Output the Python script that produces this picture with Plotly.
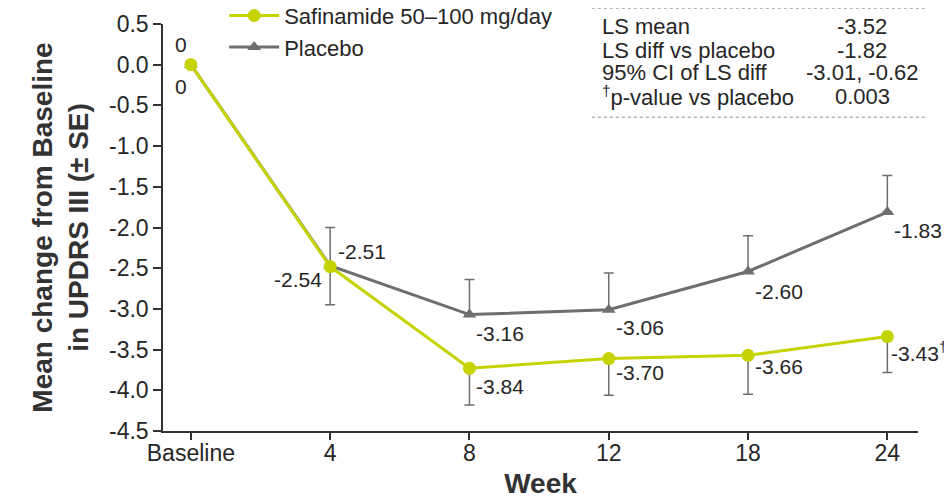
import plotly.graph_objects as go

# ---- data ----
weeks = ["Baseline", "4", "8", "12", "18", "24"]
safinamide = [0.0, -2.48, -3.73, -3.61, -3.57, -3.34]
safinamide_se = [0.0, 0.47, 0.45, 0.45, 0.48, 0.44]
safinamide_labels = ["0", "-2.54", "-3.84", "-3.70", "-3.66", "-3.43<sup>†</sup>"]
placebo = [0.0, -2.47, -3.07, -3.01, -2.54, -1.81]
placebo_se = [0.0, 0.47, 0.43, 0.45, 0.44, 0.45]
placebo_labels = ["0", "-2.51", "-3.16", "-3.06", "-2.60", "-1.83"]
table_rows = ["LS mean", "LS diff vs placebo", "95% CI of LS diff", "<sup>†</sup>p-value vs placebo"]
table_vals = ["-3.52", "-1.82", "-3.01, -0.62", "0.003"]
yticks = [0.5, 0.0, -0.5, -1.0, -1.5, -2.0, -2.5, -3.0, -3.5, -4.0, -4.5]

GREEN = "#c5d300"
GREY = "#6d6e70"
TXT = "#262626"
FONT = "Liberation Sans, Arial, sans-serif"

fig = go.Figure()
fig.add_trace(go.Scatter(
    x=weeks, y=placebo, mode="lines+markers", name="Placebo",
    line=dict(color=GREY, width=3),
    marker=dict(symbol="triangle-up", size=12, color=GREY),
    error_y=dict(type="data", symmetric=False, array=placebo_se,
                 arrayminus=[0] * len(placebo_se), color=GREY, thickness=1.5, width=5),
))
fig.add_trace(go.Scatter(
    x=weeks, y=safinamide, mode="lines+markers", name="Safinamide 50–100 mg/day",
    line=dict(color=GREEN, width=3),
    marker=dict(symbol="circle", size=13, color=GREEN),
    error_y=dict(type="data", symmetric=False, array=[0] * len(safinamide_se),
                 arrayminus=safinamide_se, color=GREY, thickness=1.5, width=5),
))

# data labels (offsets in pixels)
saf_off = [(-10, -22, "center"), (-6, -13, "right"), (5, -18, "left"), (5, -14, "left"), (5, -11, "left"), (2, -15, "left")]
pla_off = [(-10, 20, "center"), (6, 14, "left"), (5, -19, "left"), (5, -18, "left"), (5, -20, "left"), (5, -18, "left")]
for i in range(len(weeks)):
    dx, dy, anc = saf_off[i]
    fig.add_annotation(x=i, y=safinamide[i], text=safinamide_labels[i], showarrow=False,
                       xshift=dx, yshift=dy, xanchor=anc, yanchor="middle",
                       font=dict(size=21, color=TXT, family=FONT))
    dx, dy, anc = pla_off[i]
    fig.add_annotation(x=i, y=placebo[i], text=placebo_labels[i], showarrow=False,
                       xshift=dx, yshift=dy, xanchor=anc, yanchor="middle",
                       font=dict(size=21, color=TXT, family=FONT))

# table at top right
row_y = [0.993, 0.936, 0.880, 0.823]
for lab, val, yy in zip(table_rows, table_vals, row_y):
    fig.add_annotation(xref="paper", yref="paper", x=0.579, y=yy, text=lab, showarrow=False,
                       xanchor="left", yanchor="middle", font=dict(size=22, color=TXT, family=FONT))
    fig.add_annotation(xref="paper", yref="paper", x=0.926, y=yy, text=val, showarrow=False,
                       xanchor="center", yanchor="middle", font=dict(size=22, color=TXT, family=FONT))
for yy in [1.039, 0.771]:
    fig.add_shape(type="line", xref="paper", yref="paper", x0=0.568, x1=1.01, y0=yy, y1=yy,
                  line=dict(color="#888888", width=1, dash="dot"))

fig.update_layout(
    width=944, height=491,
    margin=dict(l=155, r=34, t=16, b=68, autoexpand=False),
    paper_bgcolor="white", plot_bgcolor="white",
    font=dict(family=FONT, color=TXT),
    showlegend=True,
    legend=dict(x=0.081, y=1.072, xanchor="left", yanchor="top",
                traceorder="reversed",
                font=dict(size=22, color=TXT, family=FONT), bgcolor="rgba(0,0,0,0)",
                itemwidth=50, tracegroupgap=0),
    xaxis=dict(
        type="category", range=[-0.2, 5.22], automargin=False,
        showline=True, linecolor="#333333", linewidth=1.5,
        ticks="outside", ticklen=7, tickcolor="#333333", tickwidth=1.5,
        ticklabelstandoff=-6,
        showgrid=False, zeroline=False,
        tickfont=dict(size=23, color=TXT, family=FONT),
        title=dict(text="<b>Week</b>", font=dict(size=28, color="#333333", family=FONT), standoff=10),
    ),
    yaxis=dict(
        range=[-4.5, 0.5], tickvals=yticks, ticktext=[f"{v:.1f}" for v in yticks], automargin=False,
        showline=True, linecolor="#333333", linewidth=1.5,
        ticks="outside", ticklen=8, tickcolor="#333333", tickwidth=1.5,
        showgrid=False, zeroline=False,
        tickfont=dict(size=23, color=TXT, family=FONT),
        title=dict(text="<b>Mean change from Baseline<br>in UPDRS III (± SE)</b>",
                   font=dict(size=28, color="#333333", family=FONT), standoff=12),
    ),
)

fig.write_html("out.html")
